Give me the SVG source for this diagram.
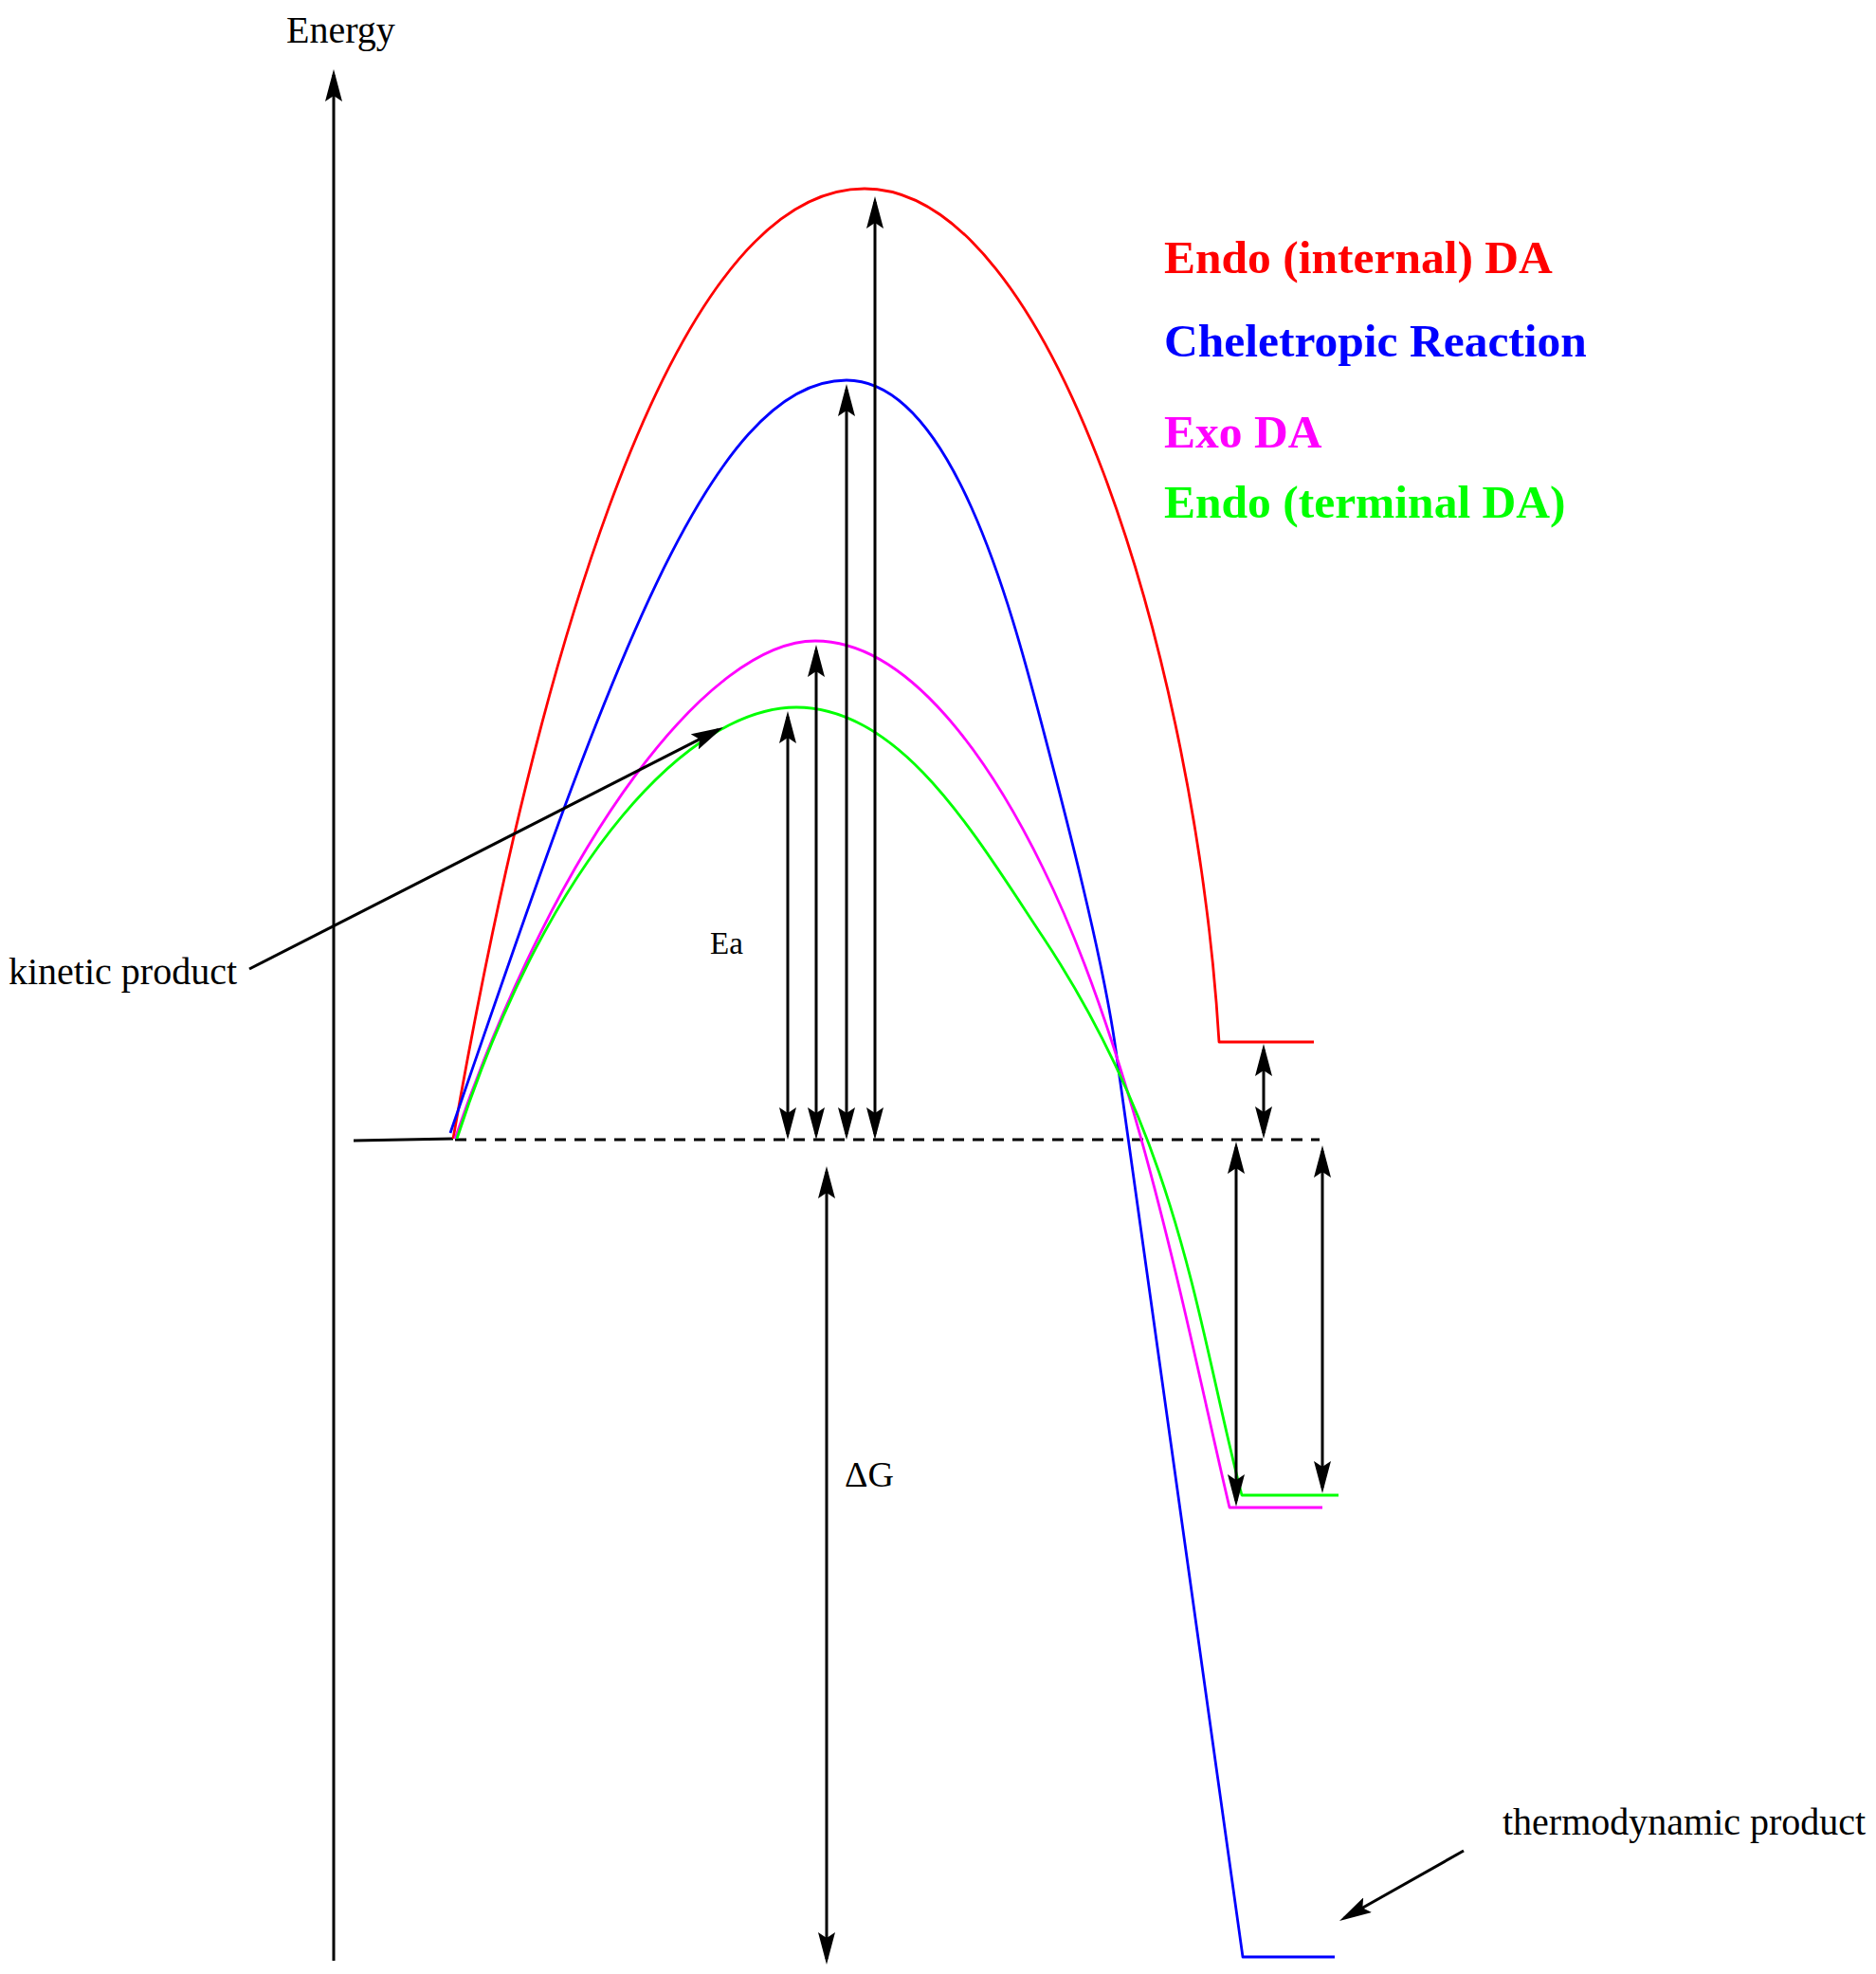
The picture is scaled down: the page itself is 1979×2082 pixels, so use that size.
<svg xmlns="http://www.w3.org/2000/svg" width="1979" height="2082" viewBox="0 0 1979 2082">
<style>
.t{font-family:"Liberation Serif","Times New Roman",serif;fill:#000}
.leg{font-family:"Liberation Serif","Times New Roman",serif;font-weight:bold;font-size:49.5px}
.c{fill:none;stroke-width:2.8;stroke-linejoin:round}
.a{fill:none;stroke:#000;stroke-width:3;marker-start:url(#ah);marker-end:url(#ah)}
.a1{fill:none;stroke:#000;stroke-width:3;marker-end:url(#ah)}
</style>
<defs>
<marker id="ah" markerUnits="userSpaceOnUse" viewBox="0 0 34 18" refX="28" refY="9" markerWidth="34" markerHeight="18" orient="auto-start-reverse">
<path d="M34,9 L0,0 L6,9 L0,18 Z" fill="#000"/>
</marker>
</defs>
<rect width="1979" height="2082" fill="#fff"/>

<g id="axis">
<line x1="352" y1="2068" x2="352" y2="79" stroke="#000" stroke-width="3" marker-end="url(#ah)"/>
<text class="t" x="302" y="45" font-size="40">Energy</text>
</g>

<g id="baseline">
<line x1="373" y1="1203" x2="478" y2="1201" stroke="#000" stroke-width="3"/>
<line x1="480" y1="1202" x2="1392" y2="1202" stroke="#000" stroke-width="3" stroke-dasharray="12 9"/>
</g>

<g id="curve-endo-internal">
<path class="c" stroke="#ff0000" d="M478,1201 C555,760 695,199 912,199 C1110,199 1262,700 1286,1099 L1386,1099"/>
</g>
<g id="curve-cheletropic">
<path class="c" stroke="#0000ff" d="M475,1195 C630,745 743,401 893,401 C1003,401 1066,638 1100,768 C1121,848 1163,1007 1177,1107 L1311,2064 L1408,2064"/>
</g>
<g id="curve-exo">
<path class="c" stroke="#ff00ff" d="M480,1201 C590,880 750,676 860,676 C960,676 1046,805 1100,915 C1199,1115 1254.5,1410 1297,1590 L1395,1590"/>
</g>
<g id="curve-endo-terminal">
<path class="c" stroke="#00ff00" d="M482,1201 C580,900 730,746 840,746 C950,746 1027,878 1100,988 C1246,1208 1263,1397 1310,1577 L1412,1577"/>
</g>

<g id="connectors">
<line class="a" x1="831" y1="756" x2="831" y2="1196"/>
<line class="a" x1="861" y1="686" x2="861" y2="1196"/>
<line class="a" x1="893" y1="411" x2="893" y2="1196"/>
<line class="a" x1="923" y1="213" x2="923" y2="1196"/>
<line class="a" x1="872" y1="1236" x2="872" y2="2066"/>
<line class="a" x1="1333" y1="1107" x2="1333" y2="1195"/>
<line class="a" x1="1304" y1="1210" x2="1304" y2="1583"/>
<line class="a" x1="1395" y1="1214" x2="1395" y2="1569"/>
<line class="a1" x1="263" y1="1022" x2="757.7" y2="769.7"/>
<line class="a1" x1="1544" y1="1952" x2="1418.2" y2="2023"/>
</g>

<g id="labels">
<text class="t" x="749" y="1006" font-size="33">Ea</text>
<text class="t" x="891" y="1568" font-size="38">ΔG</text>
<text class="t" x="9" y="1038" font-size="40">kinetic product</text>
<text class="t" x="1585" y="1935" font-size="40">thermodynamic product</text>
</g>

<g id="legend">
<text class="leg" x="1228" y="288" fill="#ff0000">Endo (internal) DA</text>
<text class="leg" x="1228" y="376" fill="#0000ff">Cheletropic Reaction</text>
<text class="leg" x="1228" y="472" fill="#ff00ff">Exo DA</text>
<text class="leg" x="1228" y="546" fill="#00ff00">Endo (terminal DA)</text>
</g>
</svg>
